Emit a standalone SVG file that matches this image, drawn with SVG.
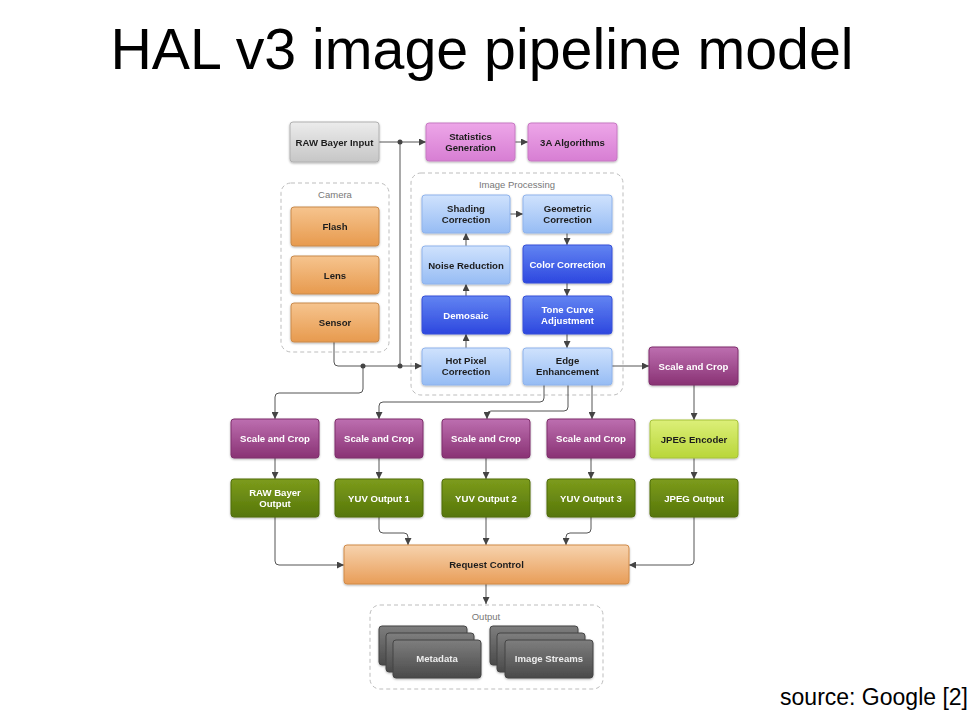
<svg xmlns="http://www.w3.org/2000/svg" width="979" height="716" viewBox="0 0 979 716">
<style>
text{font-family:"Liberation Sans",Arial,sans-serif}
.t{font-size:9.6px;font-weight:bold;text-anchor:middle;fill:#1e1e1e}
.w{fill:#ffffff}
.g{font-size:9.5px;text-anchor:middle;fill:#777}
.grp{fill:none;stroke:#bdbdbd;stroke-width:1;stroke-dasharray:4 3}
.n{filter:url(#sh)}
.c path{fill:none;stroke:#555;stroke-width:1}
.a{marker-end:url(#ar)}
.dot{fill:#444}
</style>
<defs>
<filter id="sh" x="-10%" y="-10%" width="120%" height="130%"><feDropShadow dx="0" dy="1" stdDeviation="1" flood-color="#000" flood-opacity="0.3"/></filter>
<marker id="ar" markerWidth="7" markerHeight="7" refX="7" refY="3.5" orient="auto" markerUnits="userSpaceOnUse"><path d="M0,0 L7,3.5 L0,7 z" fill="#444"/></marker>
<linearGradient id="gray" x1="0" y1="0" x2="0" y2="1"><stop offset="0" stop-color="#ececec"/><stop offset="1" stop-color="#c6c6c6"/></linearGradient>
<linearGradient id="pink" x1="0" y1="0" x2="0" y2="1"><stop offset="0" stop-color="#eda6e8"/><stop offset="1" stop-color="#d77ed3"/></linearGradient>
<linearGradient id="orange" x1="0" y1="0" x2="0" y2="1"><stop offset="0" stop-color="#f6c48e"/><stop offset="1" stop-color="#e79a4e"/></linearGradient>
<linearGradient id="lblue" x1="0" y1="0" x2="0" y2="1"><stop offset="0" stop-color="#cfe2fd"/><stop offset="1" stop-color="#96bcf4"/></linearGradient>
<linearGradient id="dblue" x1="0" y1="0" x2="0" y2="1"><stop offset="0" stop-color="#6284f2"/><stop offset="1" stop-color="#2d47df"/></linearGradient>
<linearGradient id="purple" x1="0" y1="0" x2="0" y2="1"><stop offset="0" stop-color="#bd6fb0"/><stop offset="1" stop-color="#893274"/></linearGradient>
<linearGradient id="green" x1="0" y1="0" x2="0" y2="1"><stop offset="0" stop-color="#7d9c1c"/><stop offset="1" stop-color="#56760a"/></linearGradient>
<linearGradient id="lime" x1="0" y1="0" x2="0" y2="1"><stop offset="0" stop-color="#dcef78"/><stop offset="1" stop-color="#b9d63a"/></linearGradient>
<linearGradient id="req" x1="0" y1="0" x2="0" y2="1"><stop offset="0" stop-color="#f7d3ae"/><stop offset="1" stop-color="#e89d58"/></linearGradient>
<linearGradient id="dgray" x1="0" y1="0" x2="0" y2="1"><stop offset="0" stop-color="#7e7e7e"/><stop offset="1" stop-color="#4a4a4a"/></linearGradient>
</defs>
<rect width="979" height="716" fill="#ffffff"/>
<text x="482" y="69" font-size="57.3" text-anchor="middle" fill="#000">HAL v3 image pipeline model</text>
<text x="968" y="705" font-size="23" text-anchor="end" fill="#000">source: Google [2]</text>

<g id="camera-group"><rect class="grp" x="281" y="183" width="108" height="169" rx="10"/><text class="g" x="335" y="198">Camera</text></g>
<g id="image-processing-group"><rect class="grp" x="411" y="173" width="212" height="222" rx="10"/><text class="g" x="517" y="188">Image Processing</text></g>
<g id="output-group"><rect class="grp" x="370" y="605" width="233" height="84" rx="10"/><text class="g" x="486" y="620">Output</text></g>

<g class="c" id="connectors">
<path class="a" d="M379,142 H426"/>
<path d="M400,142 V366"/>
<path class="a" d="M515,142 H528"/>
<path class="a" d="M334,342 V362 Q334,366 338,366 H422"/>
<path class="a" d="M363,366 V389 Q363,393 359,393 H279 Q275,393 275,397 V419"/>
<path class="a" d="M510,214 H523"/>
<path class="a" d="M567,233 V245"/>
<path class="a" d="M567,283 V296"/>
<path class="a" d="M567,334 V348"/>
<path class="a" d="M466,348 V334"/>
<path class="a" d="M466,296 V284"/>
<path class="a" d="M466,246 V233"/>
<path class="a" d="M612,366 H649"/>
<path class="a" d="M544,385 V398 Q544,402 540,402 H383 Q379,402 379,406 V419"/>
<path class="a" d="M568,385 V407 Q568,411 564,411 H491 Q487,411 487,415 V419"/>
<path class="a" d="M592,385 V419"/>
<path class="a" d="M694,385 V420"/>
<path class="a" d="M694,458 V479"/>
<path class="a" d="M275,458 V479"/>
<path class="a" d="M379,458 V479"/>
<path class="a" d="M486,458 V479"/>
<path class="a" d="M591,458 V479"/>
<path class="a" d="M275,517 V561 Q275,565 279,565 H344"/>
<path class="a" d="M379,517 V529 Q379,533 383,533 H404 Q408,533 408,537 V545"/>
<path class="a" d="M486,517 V545"/>
<path class="a" d="M591,517 V529 Q591,533 587,533 H570 Q566,533 566,537 V545"/>
<path class="a" d="M694,517 V561 Q694,565 690,565 H629"/>
<path class="a" d="M486,584 V604"/>
<circle class="dot" cx="400" cy="142" r="2.5"/>
<circle class="dot" cx="400" cy="366" r="2.5"/>
<circle class="dot" cx="363" cy="366" r="2.5"/>
</g>

<g id="raw-bayer-input" class="n"><rect x="290" y="122" width="89" height="40" rx="3" fill="url(#gray)" stroke="#b0b0b0"/><text class="t" x="334.5" y="145.5">RAW Bayer Input</text></g>
<g id="statistics-generation" class="n"><rect x="426" y="123" width="89" height="38" rx="3" fill="url(#pink)" stroke="#c77ac3"/><text class="t" x="470.5" y="140">Statistics</text><text class="t" x="470.5" y="151">Generation</text></g>
<g id="3a-algorithms" class="n"><rect x="528" y="123" width="89" height="38" rx="3" fill="url(#pink)" stroke="#c77ac3"/><text class="t" x="572.5" y="145.5">3A Algorithms</text></g>

<g id="flash" class="n"><rect x="291" y="207" width="88" height="39" rx="3" fill="url(#orange)" stroke="#c98a4c"/><text class="t" x="335" y="230">Flash</text></g>
<g id="lens" class="n"><rect x="291" y="256" width="88" height="38" rx="3" fill="url(#orange)" stroke="#c98a4c"/><text class="t" x="335" y="278.5">Lens</text></g>
<g id="sensor" class="n"><rect x="291" y="303" width="88" height="39" rx="3" fill="url(#orange)" stroke="#c98a4c"/><text class="t" x="335" y="326">Sensor</text></g>

<g id="shading-correction" class="n"><rect x="422" y="195" width="88" height="38" rx="3" fill="url(#lblue)" stroke="#8fb3ec"/><text class="t" x="466" y="212">Shading</text><text class="t" x="466" y="223">Correction</text></g>
<g id="geometric-correction" class="n"><rect x="523" y="195" width="89" height="38" rx="3" fill="url(#lblue)" stroke="#8fb3ec"/><text class="t" x="567.5" y="212">Geometric</text><text class="t" x="567.5" y="223">Correction</text></g>
<g id="noise-reduction" class="n"><rect x="422" y="246" width="88" height="38" rx="3" fill="url(#lblue)" stroke="#8fb3ec"/><text class="t" x="466" y="268.5">Noise Reduction</text></g>
<g id="color-correction" class="n"><rect x="523" y="245" width="89" height="38" rx="3" fill="url(#dblue)" stroke="#3650d8"/><text class="t w" x="567.5" y="267.5">Color Correction</text></g>
<g id="demosaic" class="n"><rect x="422" y="296" width="88" height="38" rx="3" fill="url(#dblue)" stroke="#3650d8"/><text class="t w" x="466" y="318.5">Demosaic</text></g>
<g id="tone-curve-adjustment" class="n"><rect x="523" y="296" width="89" height="38" rx="3" fill="url(#dblue)" stroke="#3650d8"/><text class="t w" x="567.5" y="313">Tone Curve</text><text class="t w" x="567.5" y="324">Adjustment</text></g>
<g id="hot-pixel-correction" class="n"><rect x="422" y="348" width="88" height="37" rx="3" fill="url(#lblue)" stroke="#8fb3ec"/><text class="t" x="466" y="364">Hot Pixel</text><text class="t" x="466" y="375">Correction</text></g>
<g id="edge-enhancement" class="n"><rect x="523" y="348" width="89" height="37" rx="3" fill="url(#lblue)" stroke="#8fb3ec"/><text class="t" x="567.5" y="364">Edge</text><text class="t" x="567.5" y="375">Enhancement</text></g>

<g id="scale-crop-jpeg" class="n"><rect x="649" y="347" width="89" height="38" rx="3" fill="url(#purple)" stroke="#7e2f6c"/><text class="t w" x="693.5" y="369.5">Scale and Crop</text></g>
<g id="jpeg-encoder" class="n"><rect x="650" y="420" width="88" height="38" rx="3" fill="url(#lime)" stroke="#a6c23a"/><text class="t" x="694" y="442.5">JPEG Encoder</text></g>
<g id="jpeg-output" class="n"><rect x="650" y="479" width="88" height="38" rx="3" fill="url(#green)" stroke="#4f6c0a"/><text class="t w" x="694" y="501.5">JPEG Output</text></g>

<g id="scale-crop-1" class="n"><rect x="231" y="419" width="88" height="39" rx="3" fill="url(#purple)" stroke="#7e2f6c"/><text class="t w" x="275" y="442">Scale and Crop</text></g>
<g id="scale-crop-2" class="n"><rect x="335" y="419" width="88" height="39" rx="3" fill="url(#purple)" stroke="#7e2f6c"/><text class="t w" x="379" y="442">Scale and Crop</text></g>
<g id="scale-crop-3" class="n"><rect x="442" y="419" width="88" height="39" rx="3" fill="url(#purple)" stroke="#7e2f6c"/><text class="t w" x="486" y="442">Scale and Crop</text></g>
<g id="scale-crop-4" class="n"><rect x="547" y="419" width="88" height="39" rx="3" fill="url(#purple)" stroke="#7e2f6c"/><text class="t w" x="591" y="442">Scale and Crop</text></g>

<g id="raw-bayer-output" class="n"><rect x="231" y="479" width="88" height="38" rx="3" fill="url(#green)" stroke="#4f6c0a"/><text class="t w" x="275" y="496">RAW Bayer</text><text class="t w" x="275" y="507">Output</text></g>
<g id="yuv-output-1" class="n"><rect x="335" y="479" width="88" height="38" rx="3" fill="url(#green)" stroke="#4f6c0a"/><text class="t w" x="379" y="501.5">YUV Output 1</text></g>
<g id="yuv-output-2" class="n"><rect x="442" y="479" width="88" height="38" rx="3" fill="url(#green)" stroke="#4f6c0a"/><text class="t w" x="486" y="501.5">YUV Output 2</text></g>
<g id="yuv-output-3" class="n"><rect x="547" y="479" width="88" height="38" rx="3" fill="url(#green)" stroke="#4f6c0a"/><text class="t w" x="591" y="501.5">YUV Output 3</text></g>

<g id="request-control" class="n"><rect x="344" y="545" width="285" height="39" rx="3" fill="url(#req)" stroke="#d08a48"/><text class="t" x="486.5" y="568">Request Control</text></g>

<g id="metadata" class="n">
<rect x="379" y="626" width="88" height="39" rx="3" fill="url(#dgray)" stroke="#444"/>
<rect x="386" y="633" width="88" height="39" rx="3" fill="url(#dgray)" stroke="#444"/>
<rect x="393" y="640" width="88" height="38" rx="3" fill="url(#dgray)" stroke="#444"/>
<text class="t" x="437" y="662" style="fill:#eeeeee">Metadata</text>
</g>
<g id="image-streams" class="n">
<rect x="490" y="626" width="88" height="39" rx="3" fill="url(#dgray)" stroke="#444"/>
<rect x="497" y="633" width="88" height="39" rx="3" fill="url(#dgray)" stroke="#444"/>
<rect x="505" y="640" width="88" height="38" rx="3" fill="url(#dgray)" stroke="#444"/>
<text class="t" x="549" y="662" style="fill:#eeeeee">Image Streams</text>
</g>
</svg>
